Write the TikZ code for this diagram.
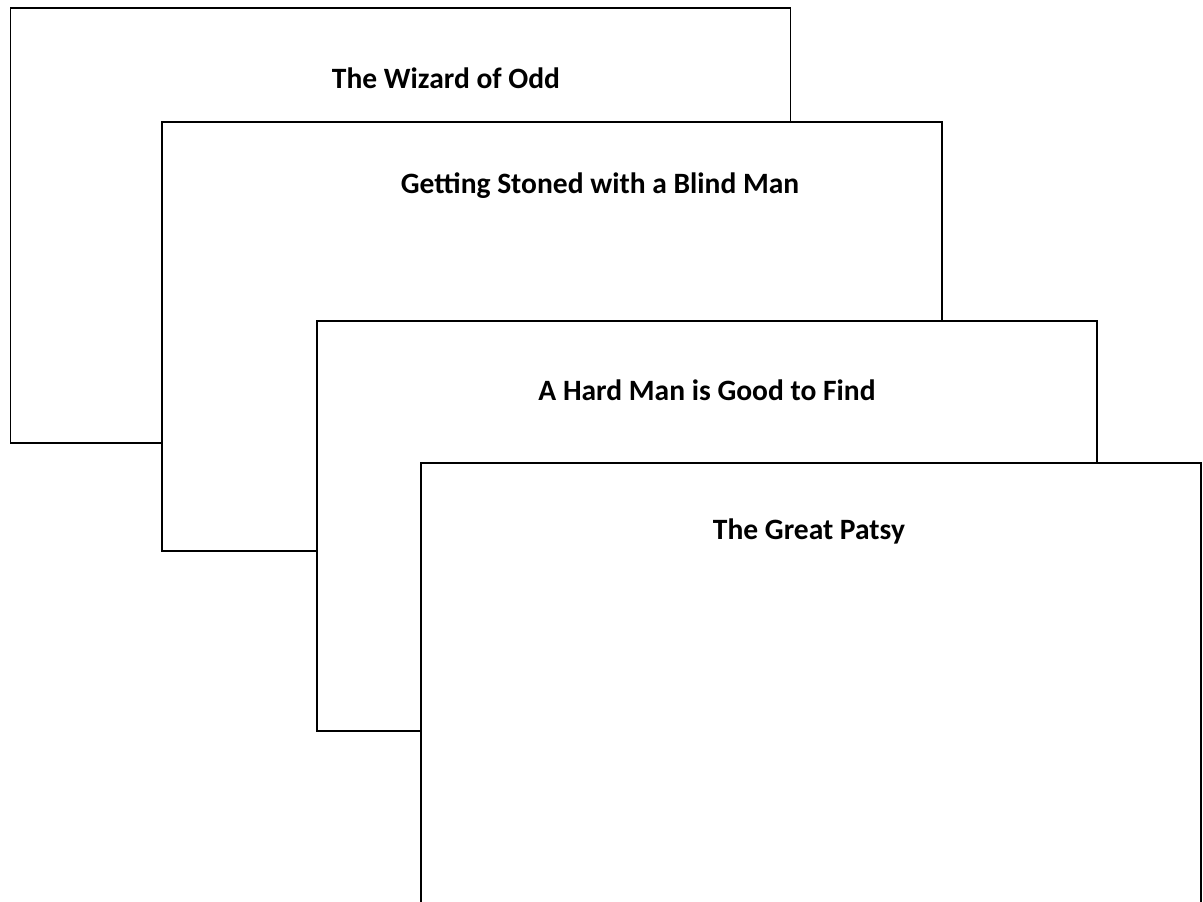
\documentclass[tikz,border=0pt]{standalone}
\usepackage{fontspec}
\setmainfont{Carlito}
\usetikzlibrary{positioning}
\definecolor{cardfill}{RGB}{255,255,255}
\definecolor{cardline}{RGB}{0,0,0}
\tikzset{
 card/.style={draw=cardline, fill=cardfill, line width=1pt,
        anchor=north west, inner sep=0pt, minimum width=15.6cm},
 cardtitle/.style={font=\fontsize{16.8}{20}\selectfont\bfseries, inner sep=1pt},
}
\begin{document}
\begin{tikzpicture}
\useasboundingbox (0,0) rectangle (24.06,18.04);
\clip (0,0) rectangle (24.06,18.04);
% Stacked title cards, back to front. The last one runs off the page.
\foreach \cx/\cy/\ch/\tx/\ty/\title [count=\i] in {%
 0.19/17.90/8.70/8.92/16.48/{The Wizard of Odd},
 3.22/15.62/8.58/12.00/14.32/{Getting Stoned with a Blind Man},
 6.32/11.64/8.20/14.14/10.24/{A Hard Man is Good to Find},
 8.40/8.80/9.50/16.18/7.42/{The Great Patsy}%
}{
 \node[card, minimum height=\ch cm] (card\i) at (\cx,\cy) {};
 \node[cardtitle] (title\i) at (\tx,\ty) {\title};
}
\end{tikzpicture}
\end{document}
